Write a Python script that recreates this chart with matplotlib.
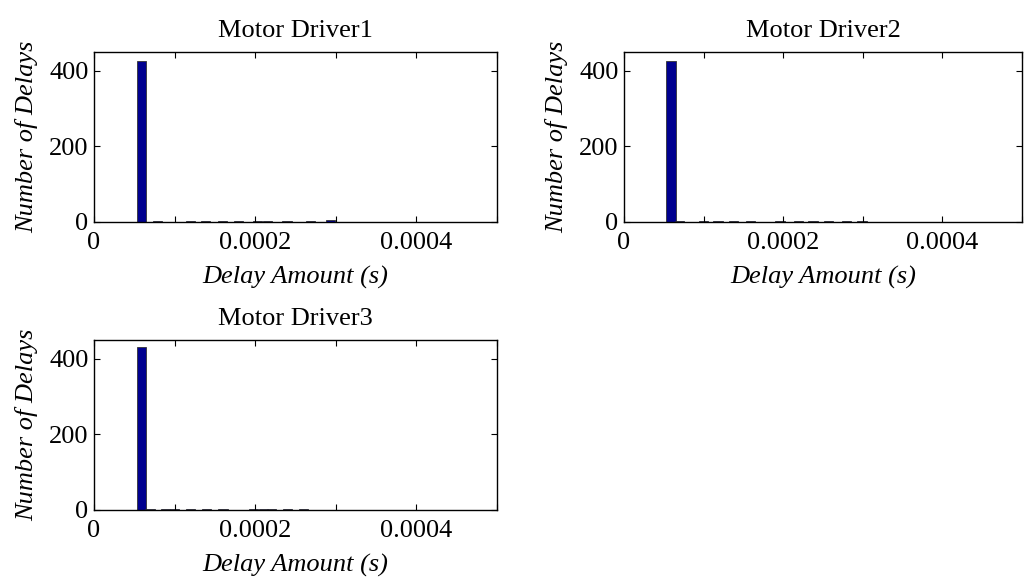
import matplotlib
matplotlib.use('Agg')
import matplotlib.pyplot as plt

plt.rcParams['font.family'] = 'Liberation Serif'

# bin centres (s) and counts for each driver
centros1 = [0.0000586, 0.0000790, 0.0001199, 0.0001385, 0.0001591, 0.0001796,
            0.0002030, 0.0002150, 0.0002396, 0.0002685, 0.0002930]
cuentas1 = [427, 3, 3, 3, 3, 3, 3, 3, 3, 3, 4]

centros2 = [0.0000590, 0.0000693, 0.0000997, 0.0001180, 0.0001380, 0.0001590,
            0.0001960, 0.0002190, 0.0002375, 0.0002570, 0.0002790, 0.0002990]
cuentas2 = [427, 3, 3, 3, 3, 3, 3, 3, 3, 3, 3, 3]

centros3 = [0.0000586, 0.0000694, 0.0000890, 0.0001000, 0.0001200, 0.0001400,
            0.0001600, 0.0001980, 0.0002100, 0.0002200, 0.0002400, 0.0002600]
cuentas3 = [431, 3, 3, 3, 3, 3, 3, 3, 3, 3, 3, 3]

titulos = ['Motor Driver1', 'Motor Driver2', 'Motor Driver3']
xticks = [0, 0.0001, 0.0002, 0.0003, 0.0004, 0.0005]
xticklabels = ['0', '', '0.0002', '', '0.0004', '']
yticks = [0, 200, 400]

W, H = 1028, 578
fig = plt.figure(figsize=(W / 100, H / 100), dpi=100)

# axes boxes in pixels: left, top, right, bottom
cajas = [(94, 52, 497, 222), (624, 52, 1022, 222), (94, 340, 497, 510)]
datos = [(centros1, cuentas1), (centros2, cuentas2), (centros3, cuentas3)]

for (l, t, r, b), (cx, cy), titulo in zip(cajas, datos, titulos):
    ax = fig.add_axes([l / W, 1 - b / H, (r - l) / W, (b - t) / H])
    ax.bar(cx, cy, width=0.0000115, color='#00008f', edgecolor='#333333',
           linewidth=0.6)
    ax.set_xlim(0, 0.0005)
    ax.set_ylim(0, 450)
    ax.set_xticks(xticks)
    ax.set_xticklabels(xticklabels)
    ax.set_yticks(yticks)
    ax.tick_params(direction='in', top=True, right=True, length=4,
                   width=0.8, labelsize=19)
    ax.tick_params(axis='x', pad=7)
    ax.tick_params(axis='y', pad=4)
    for s in ax.spines.values():
        s.set_linewidth(1.0)
    ax.set_title(titulo, fontsize=19, pad=11)
    ax.set_xlabel('Delay Amount (s)', fontsize=19, style='italic', labelpad=9)
    ax.set_ylabel('Number of Delays', fontsize=19, style='italic', labelpad=8)

fig.savefig('out.png', dpi=100)
